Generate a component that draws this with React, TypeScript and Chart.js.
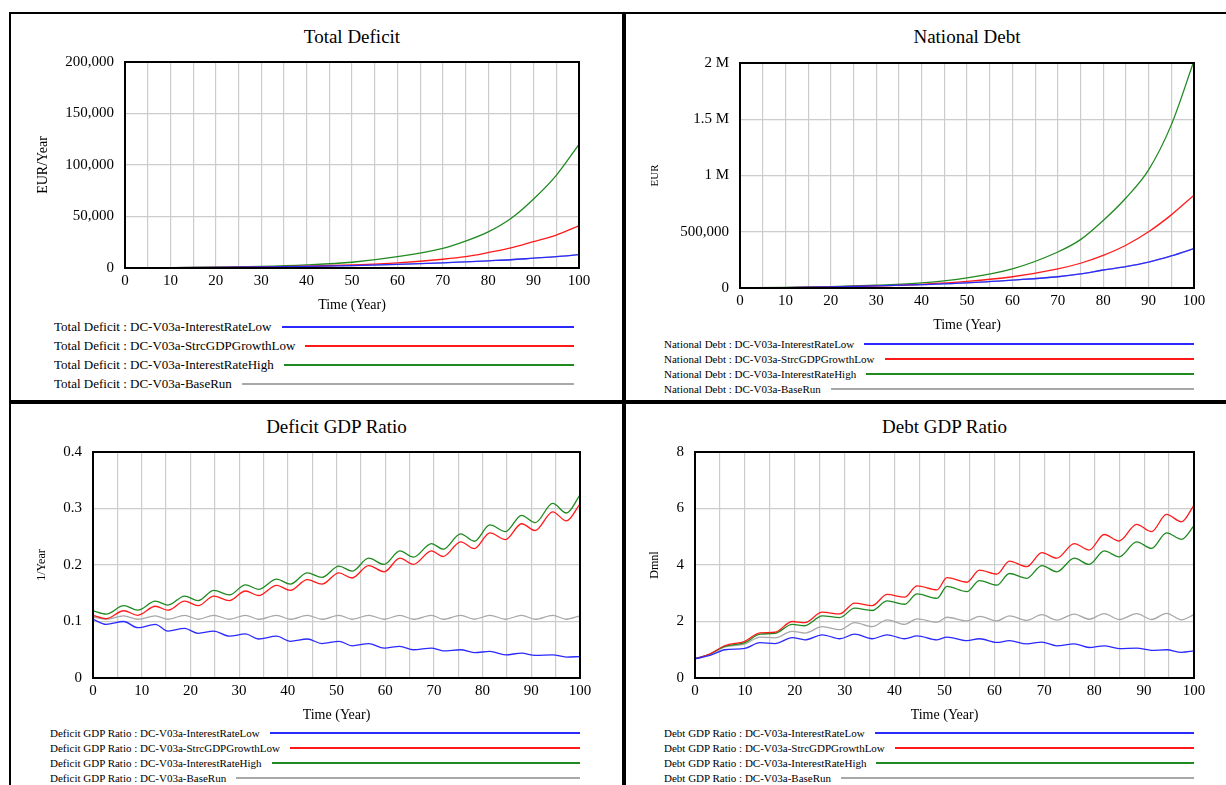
import React, { useEffect, useRef } from "react";
import { Chart, registerables } from "chart.js";
Chart.register(...registerables);

// ---------- data ----------
const runNames = ["DC-V03a-InterestRateLow", "DC-V03a-StrcGDPGrowthLow", "DC-V03a-InterestRateHigh", "DC-V03a-BaseRun"];
const runColors = ["#2a2aff", "#ff1a1a", "#1f8a1f", "#a8a8a8"];

const expTimes = [0, 10, 20, 30, 40, 50, 60, 70, 75, 80, 85, 90, 95, 100];
const deficitLow = [300, 400, 600, 1000, 1500, 2300, 3500, 5000, 6000, 7000, 8000, 9500, 11000, 13000];
const deficitGdpLow = [300, 400, 600, 1000, 1700, 3000, 5000, 8500, 11000, 15000, 19500, 25700, 32000, 41000];
const deficitHigh = [200, 400, 800, 1500, 3000, 5600, 11000, 19000, 26000, 35000, 48000, 67000, 90000, 120000];
const deficitBase = [300, 400, 600, 1000, 1500, 2300, 3500, 5000, 6000, 7000, 8000, 9500, 11000, 13000];

const debtLow = [2000, 4000, 9000, 18000, 30000, 45000, 70000, 100000, 125000, 160000, 190000, 230000, 285000, 350000];
const debtGdpLow = [2000, 4000, 9000, 18000, 33000, 58000, 100000, 170000, 220000, 290000, 380000, 500000, 650000, 825000];
const debtHigh = [2000, 5000, 12000, 25000, 45000, 90000, 170000, 320000, 430000, 600000, 800000, 1050000, 1450000, 2020000];
const debtBase = [2000, 4000, 9000, 18000, 30000, 45000, 70000, 100000, 125000, 160000, 190000, 230000, 285000, 350000];

const dRatioTimes = [0, 2.7, 6.3, 9.2, 12.8, 15.4, 18.8, 21.6, 24.8, 28, 31.3, 34, 37.7, 40.5, 44, 47, 50.5, 53.2, 56.6, 59.8, 63, 65.8, 69.5, 71.9, 75.5, 78.3, 81.5, 84.7, 88, 90.8, 94.4, 97.2, 100];
const dRatioLow = [0.104, 0.095, 0.1, 0.089, 0.095, 0.083, 0.088, 0.079, 0.083, 0.074, 0.078, 0.069, 0.074, 0.065, 0.069, 0.061, 0.065, 0.057, 0.061, 0.053, 0.056, 0.05, 0.053, 0.048, 0.05, 0.045, 0.047, 0.041, 0.044, 0.04, 0.041, 0.037, 0.038];
const dRatioGdpLow = [0.111, 0.105, 0.119, 0.111, 0.127, 0.12, 0.136, 0.128, 0.145, 0.137, 0.154, 0.146, 0.164, 0.155, 0.174, 0.166, 0.186, 0.177, 0.199, 0.188, 0.212, 0.201, 0.225, 0.215, 0.241, 0.229, 0.257, 0.245, 0.273, 0.261, 0.294, 0.278, 0.308];
const dRatioHigh = [0.119, 0.113, 0.128, 0.12, 0.136, 0.129, 0.145, 0.137, 0.155, 0.147, 0.165, 0.157, 0.175, 0.166, 0.186, 0.178, 0.198, 0.189, 0.212, 0.201, 0.225, 0.214, 0.238, 0.228, 0.255, 0.242, 0.271, 0.259, 0.288, 0.275, 0.309, 0.292, 0.324];
const dRatioBase = [0.108, 0.104, 0.11, 0.104, 0.11, 0.104, 0.111, 0.104, 0.111, 0.104, 0.111, 0.104, 0.111, 0.104, 0.111, 0.104, 0.111, 0.104, 0.111, 0.104, 0.111, 0.104, 0.111, 0.104, 0.111, 0.104, 0.111, 0.104, 0.111, 0.104, 0.111, 0.104, 0.11];

const bRatioTimes = [0, 3, 6, 10, 13, 16, 19.5, 22, 25.5, 29, 32, 35.5, 38.5, 42, 44.5, 48.5, 50.5, 54.5, 57, 60.5, 63, 66.5, 69.5, 72.5, 76, 79, 82, 85, 88.5, 91.5, 94.5, 97.5, 100];
const bRatioLow = [0.68, 0.8, 1.0, 1.05, 1.25, 1.22, 1.43, 1.35, 1.53, 1.39, 1.55, 1.39, 1.53, 1.39, 1.49, 1.35, 1.45, 1.32, 1.39, 1.26, 1.32, 1.21, 1.27, 1.14, 1.21, 1.08, 1.14, 1.04, 1.06, 0.98, 1.0, 0.91, 0.96];
const bRatioGdpLow = [0.68, 0.85, 1.15, 1.3, 1.6, 1.62, 2.0, 1.96, 2.33, 2.27, 2.65, 2.56, 2.96, 2.86, 3.26, 3.12, 3.55, 3.39, 3.82, 3.68, 4.14, 3.94, 4.44, 4.24, 4.76, 4.53, 5.08, 4.85, 5.44, 5.18, 5.79, 5.53, 6.12];
const bRatioHigh = [0.68, 0.85, 1.12, 1.25, 1.55, 1.58, 1.9, 1.85, 2.2, 2.14, 2.47, 2.39, 2.73, 2.61, 2.98, 2.82, 3.24, 3.06, 3.45, 3.29, 3.7, 3.53, 3.98, 3.76, 4.24, 4.02, 4.5, 4.29, 4.82, 4.59, 5.14, 4.91, 5.39];
const bRatioBase = [0.68, 0.85, 1.1, 1.2, 1.45, 1.42, 1.65, 1.59, 1.82, 1.71, 1.96, 1.82, 2.06, 1.9, 2.09, 1.98, 2.15, 2.02, 2.18, 2.02, 2.2, 2.04, 2.24, 2.05, 2.26, 2.08, 2.28, 2.07, 2.28, 2.07, 2.29, 2.06, 2.24];

const FONT = "'Liberation Serif', 'Times New Roman', serif";

type PanelCfg = {
  title: string; varName: string; yTitle: string; yTitleSize: number; yTitlePad: number;
  times: number[]; series: number[][]; yMax: number; yStep: number; fmt: (v: number) => string;
  left: number; top: number; width: number; height: number;
  plotL: number; plotR: number; plotT: number; plotB: number;
  legendTop: number; legendRow: number; legendSize: number; legendL: number; legendR: number;
};

const comma = (v: number) => v.toLocaleString("en-US");
const mfmt = (v: number) => (v >= 1000000 ? `${v / 1000000} M` : comma(v));

const panels: PanelCfg[] = [
  { title: "Total Deficit", varName: "Total Deficit", yTitle: "EUR/Year", yTitleSize: 14, yTitlePad: 24,
    times: expTimes, series: [deficitLow, deficitGdpLow, deficitHigh, deficitBase], yMax: 200000, yStep: 50000, fmt: comma,
    left: 10, top: 13, width: 615, height: 390, plotL: 114, plotR: 568, plotT: 47, plotB: 254,
    legendTop: 303, legendRow: 19, legendSize: 13, legendL: 43, legendR: 563 },
  { title: "National Debt", varName: "National Debt", yTitle: "EUR", yTitleSize: 11, yTitlePad: 23,
    times: expTimes, series: [debtLow, debtGdpLow, debtHigh, debtBase], yMax: 2000000, yStep: 500000, fmt: mfmt,
    left: 625, top: 13, width: 605, height: 390, plotL: 114, plotR: 568, plotT: 48, plotB: 274,
    legendTop: 322, legendRow: 15, legendSize: 11, legendL: 38, legendR: 568 },
  { title: "Deficit GDP Ratio", varName: "Deficit GDP Ratio", yTitle: "1/Year", yTitleSize: 12, yTitlePad: 24,
    times: dRatioTimes, series: [dRatioLow, dRatioGdpLow, dRatioHigh, dRatioBase], yMax: 0.4, yStep: 0.1, fmt: (v) => (v === 0 ? "0" : v.toFixed(1)),
    left: 10, top: 403, width: 615, height: 390, plotL: 82, plotR: 569, plotT: 47, plotB: 274,
    legendTop: 321, legendRow: 15, legendSize: 11, legendL: 39, legendR: 569 },
  { title: "Debt GDP Ratio", varName: "Debt GDP Ratio", yTitle: "Dmnl", yTitleSize: 12, yTitlePad: 22,
    times: bRatioTimes, series: [bRatioLow, bRatioGdpLow, bRatioHigh, bRatioBase], yMax: 8, yStep: 2, fmt: (v) => String(v),
    left: 625, top: 403, width: 605, height: 390, plotL: 69, plotR: 568, plotT: 47, plotB: 274,
    legendTop: 321, legendRow: 15, legendSize: 11, legendL: 38, legendR: 568 },
];

const framePlugin = {
  id: "frame",
  afterDraw(chart: any) {
    const { ctx, chartArea: a } = chart;
    ctx.save();
    ctx.strokeStyle = "#000";
    ctx.lineWidth = 2;
    ctx.strokeRect(a.left, a.top, a.right - a.left, a.bottom - a.top);
    ctx.restore();
  },
};

function Panel({ p }: { p: PanelCfg }) {
  const ref = useRef<HTMLCanvasElement>(null);
  const topOff = 19;
  const xAxisH = 46;
  const cw = p.plotR + 24;
  const ch = p.plotB - p.plotT + topOff + xAxisH;
  useEffect(() => {
    const chart = new Chart(ref.current!, {
      type: "line",
      data: {
        datasets: p.series.map((s, i) => ({
          label: runNames[i],
          data: s.map((y, j) => ({ x: p.times[j], y })),
          borderColor: runColors[i],
          borderWidth: 1.3,
          pointRadius: 0,
          cubicInterpolationMode: "monotone" as const,
          fill: false,
        })),
      },
      options: {
        animation: false,
        responsive: false,
        events: [],
        layout: { padding: { top: 3, right: cw - p.plotR, left: 0, bottom: 0 } },
        plugins: { legend: { display: false }, tooltip: { enabled: false }, title: { display: false } },
        scales: {
          x: {
            type: "linear", min: 0, max: 100,
            afterFit: (s: any) => { s.height = xAxisH; },
            ticks: { stepSize: 5, autoSkip: false, maxRotation: 0, padding: 4, color: "#000",
              font: { family: FONT, size: 15 }, callback: (v: any) => (Number(v) % 10 === 0 ? String(v) : "") },
            grid: { color: "#cccccc", lineWidth: 1.2, drawTicks: false },
            border: { display: false },
            title: { display: true, text: "Time (Year)", color: "#000", font: { family: FONT, size: 14 }, padding: { top: 0, bottom: 0 } },
          },
          y: {
            type: "linear", min: 0, max: p.yMax,
            afterFit: (s: any) => { s.width = p.plotL; },
            ticks: { stepSize: p.yStep, padding: 11, color: "#000", font: { family: FONT, size: 15 }, callback: (v: any) => p.fmt(Number(v)) },
            grid: { color: "#cccccc", lineWidth: 1.2, drawTicks: false },
            border: { display: false },
            title: { display: true, text: p.yTitle, color: "#000", font: { family: FONT, size: p.yTitleSize }, padding: { top: p.yTitlePad, bottom: 0 } },
          },
        },
      },
      plugins: [framePlugin],
    });
    return () => chart.destroy();
  }, []);
  return (
    <div style={{ position: "absolute", left: p.left, top: p.top, width: p.width, height: p.height, border: "2px solid #000", boxSizing: "border-box", marginLeft: -1, marginTop: -1, fontFamily: FONT }}>
      <div style={{ position: "absolute", left: 0, top: 12, textAlign: "center", fontSize: 19, color: "#000", paddingLeft: p.plotL }}>
        <div style={{ width: p.plotR - p.plotL, textAlign: "center" }}>{p.title}</div>
      </div>
      <canvas ref={ref} width={cw} height={ch} style={{ position: "absolute", left: 0, top: p.plotT - topOff, width: cw, height: ch }} />
      {runNames.map((n, i) => (
        <div key={n} style={{ position: "absolute", left: p.legendL, width: p.legendR - p.legendL, top: p.legendTop + i * p.legendRow, height: p.legendRow, display: "flex", alignItems: "center", fontSize: p.legendSize, color: "#000", whiteSpace: "nowrap" }}>
          <span>{p.varName} : {n}</span>
          <div style={{ flex: 1, marginLeft: 10, borderTop: `2px solid ${runColors[i]}` }} />
        </div>
      ))}
    </div>
  );
}

export default function App() {
  useEffect(() => { document.body.style.margin = "0"; }, []);
  return (
    <div style={{ position: "relative", width: 1226, height: 785, overflow: "hidden", background: "#fff" }}>
      {panels.map((p) => <Panel key={p.title} p={p} />)}
    </div>
  );
}
